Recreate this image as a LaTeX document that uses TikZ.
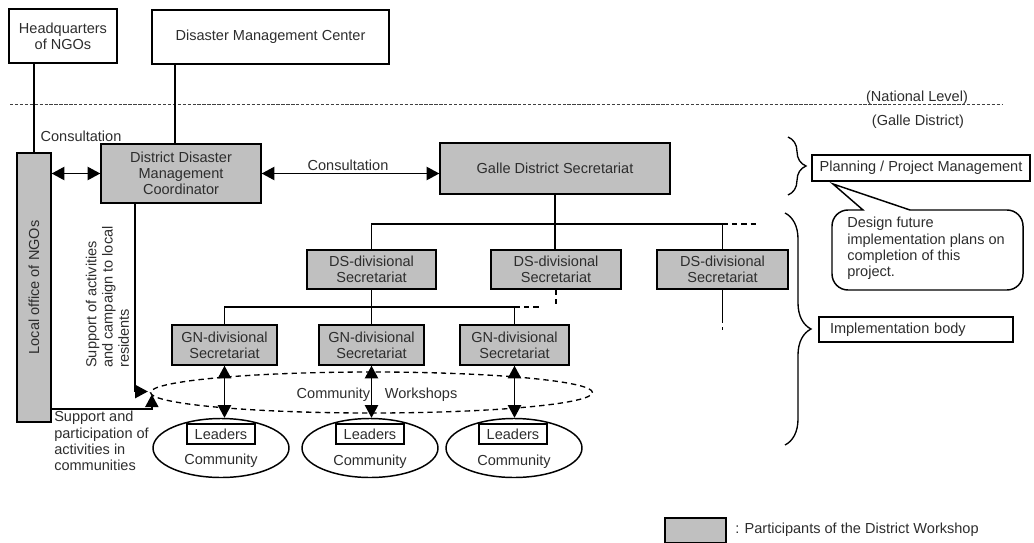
\documentclass[tikz,border=0pt]{standalone}
\usepackage{fontspec}
\setmainfont{Liberation Sans}
\usetikzlibrary{shapes.geometric,arrows.meta,decorations.pathreplacing,calc}
\definecolor{gfill}{RGB}{192,192,192}
\definecolor{ink}{RGB}{45,45,45}
\begin{document}
\begin{tikzpicture}[x=0.75pt,y=-0.75pt,
  every node/.style={font=\fontsize{10.9pt}{12.2pt}\selectfont, text=ink},
  sz/.style 2 args={minimum width=#1*0.75pt, minimum height=#2*0.75pt, inner sep=0pt},
  box/.style={draw=black, line width=1.1pt, align=center},
  gbox/.style={box, fill=gfill},
  conn/.style={draw=black, line width=1pt},
  tip/.style={-{Triangle[length=9.5pt,width=10pt]}},
  dtip/.style={{Triangle[length=9.5pt,width=10pt]}-{Triangle[length=9.5pt,width=10pt]}},
  dashline/.style={conn, dash pattern=on 4pt off 3pt},
  lbl/.style={inner sep=0pt, align=left},
  bracestyle/.style={draw=black, line width=1pt, decorate},
]
\useasboundingbox (0,0) rectangle (1034,542);

% national level
\node[box, sz={108}{54}] (hq) at (63,36) {Headquarters\\of NGOs};
\node[box, sz={237}{54}] (dmc) at (270.5,37) {Disaster Management Center};
\draw[draw=black!75, line width=0.7pt, dash pattern=on 2.5pt off 1.2pt] (10,104) -- (1003,104);
\node[lbl] (natl) at (917,98) {(National Level)};
\node[lbl] (galled) at (918,122) {(Galle District)};

% district level
\node[gbox, sz={34}{269}] (local) at (34,287.5) {};
\node[rotate=90, inner sep=0pt] (localtxt) at (local.center) {Local office of NGOs};
\node[gbox, sz={160}{59}] (ddmc) at (181,173.5) {District Disaster\\Management\\Coordinator};
\node[gbox, sz={230}{51}] (galle) at (555,168.5) {Galle District Secretariat};

\draw[conn] (local.north) -- (local.north |- hq.south);
\draw[conn] ([xshift=-4.5pt]ddmc.north) -- ([xshift=-4.5pt]ddmc.north |- dmc.south);
\node[lbl] (cons1) at (81,136) {Consultation};
\draw[conn, dtip] (local.east |- ddmc.west) -- (ddmc.west);
\draw[conn, dtip] (ddmc.east) -- (ddmc.east -| galle.west);
\node[lbl] (cons2) at (348,165) {Consultation};

% DS level
\node[gbox, sz={129}{39}] (ds1) at (371.5,269.5) {DS-divisional\\Secretariat};
\node[gbox, sz={130}{39}] (ds2) at (556,269.5) {DS-divisional\\Secretariat};
\node[gbox, sz={131}{39}] (ds3) at (722.5,269.5) {DS-divisional\\Secretariat};
\coordinate (dsbus) at (0,224);
\draw[conn] (galle.south) -- (galle.south |- ds2.north);
\draw[conn] (ds1.north) -- (ds1.north |- dsbus) -- (ds3.north |- dsbus) -- (ds3.north);
\draw[dashline] (ds3.north |- dsbus) -- ++(34,0);
\draw[dashline] (ds2.south) -- ++(0,18);
\draw[conn] (ds3.south) -- ++(0,28) coordinate (ds3end);
\draw[dashline] (ds3end) -- ++(0,12);

% GN level
\node[gbox, sz={105}{40}] (gn1) at (224.5,345) {GN-divisional\\Secretariat};
\node[gbox, sz={105}{40}] (gn2) at (371.5,345) {GN-divisional\\Secretariat};
\node[gbox, sz={109}{40}] (gn3) at (514.5,345) {GN-divisional\\Secretariat};
\coordinate (gnbus) at (0,307);
\draw[conn] (gn1.north) -- (gn1.north |- gnbus) -- (gn3.north |- gnbus) -- (gn3.north);
\draw[conn] (ds1.south) -- (gn2.north);
\draw[dashline] (gn3.north |- gnbus) -- ++(26,0);

% workshops
\node[ellipse, draw=black, line width=1pt, dash pattern=on 4pt off 3pt, sz={442}{41}] (ws) at (371.5,392.5) {};
\node[lbl] (wstxt) at (377,395) {Community\hspace{11pt}Workshops};

% communities
\node[ellipse, draw=black, line width=1.1pt, sz={136}{59}] (c1) at (221,448) {};
\node[ellipse, draw=black, line width=1.1pt, sz={136}{59}] (c2) at (370,448) {};
\node[ellipse, draw=black, line width=1.1pt, sz={136}{59}] (c3) at (514,448) {};
\node[box, line width=0.9pt, sz={68}{20}] (ld1) at (221,434) {Leaders};
\node[box, line width=0.9pt, sz={68}{20}] (ld2) at (370,434) {Leaders};
\node[box, line width=0.9pt, sz={68}{20}] (ld3) at (513,434) {Leaders};
\node[lbl] (ct1) at (221,461) {Community};
\node[lbl] (ct2) at (370,462) {Community};
\node[lbl] (ct3) at (514,462) {Community};

\draw[conn, dtip] (gn1.south) -- (gn1.south |- c1.north);
\draw[conn, dtip] (gn2.south) -- (gn2.south |- c2.north);
\draw[conn, dtip] (gn3.south) -- (gn3.south |- c3.north);

% NGO support arrows
\draw[conn, tip] ([xshift=-34.5pt]ddmc.south) |- ($(ws.west)+(-2,-1)$);
\draw[conn, tip] (local.east |- 0,409) -| ($(ws.west)+(2,2)$);
\node[rotate=90, anchor=west, lbl] (supp1) at (107.5,368) {Support of activities\\and campaign to local\\residents};
\node[lbl, anchor=north west] (supp2) at (54,411) {Support and\\participation of\\activities in\\communities};

% right side
\draw[bracestyle, decoration={brace, amplitude=13.5pt}] (788,137) -- (788,195);
\draw[bracestyle, decoration={brace, amplitude=19.5pt}] (785,213) -- (785,445);
\node[box, sz={218}{26}] (plan) at (921,168) {Planning / Project Management};
\node[box, minimum height=18.75pt, inner ysep=0pt, inner xsep=8.25pt, text width=129pt, align=left] (impl) at (916,329.5) {Implementation body};
\draw[line width=1.1pt] (910,210) [rounded corners=12pt] -- (1023,210) -- (1023,290) -- (832,290) -- (832,210) [sharp corners] -- (863,210) -- (833,184) -- cycle;
\node[lbl, anchor=north west] (callout) at (847,217) {Design future\\implementation plans on\\completion of this\\project.};

% legend
\node[gbox, sz={61}{25}] (leg) at (695.5,530.5) {};
\node[lbl, anchor=west] (legtxt) at (735,530) {: Participants of the District Workshop};
\end{tikzpicture}
\end{document}
